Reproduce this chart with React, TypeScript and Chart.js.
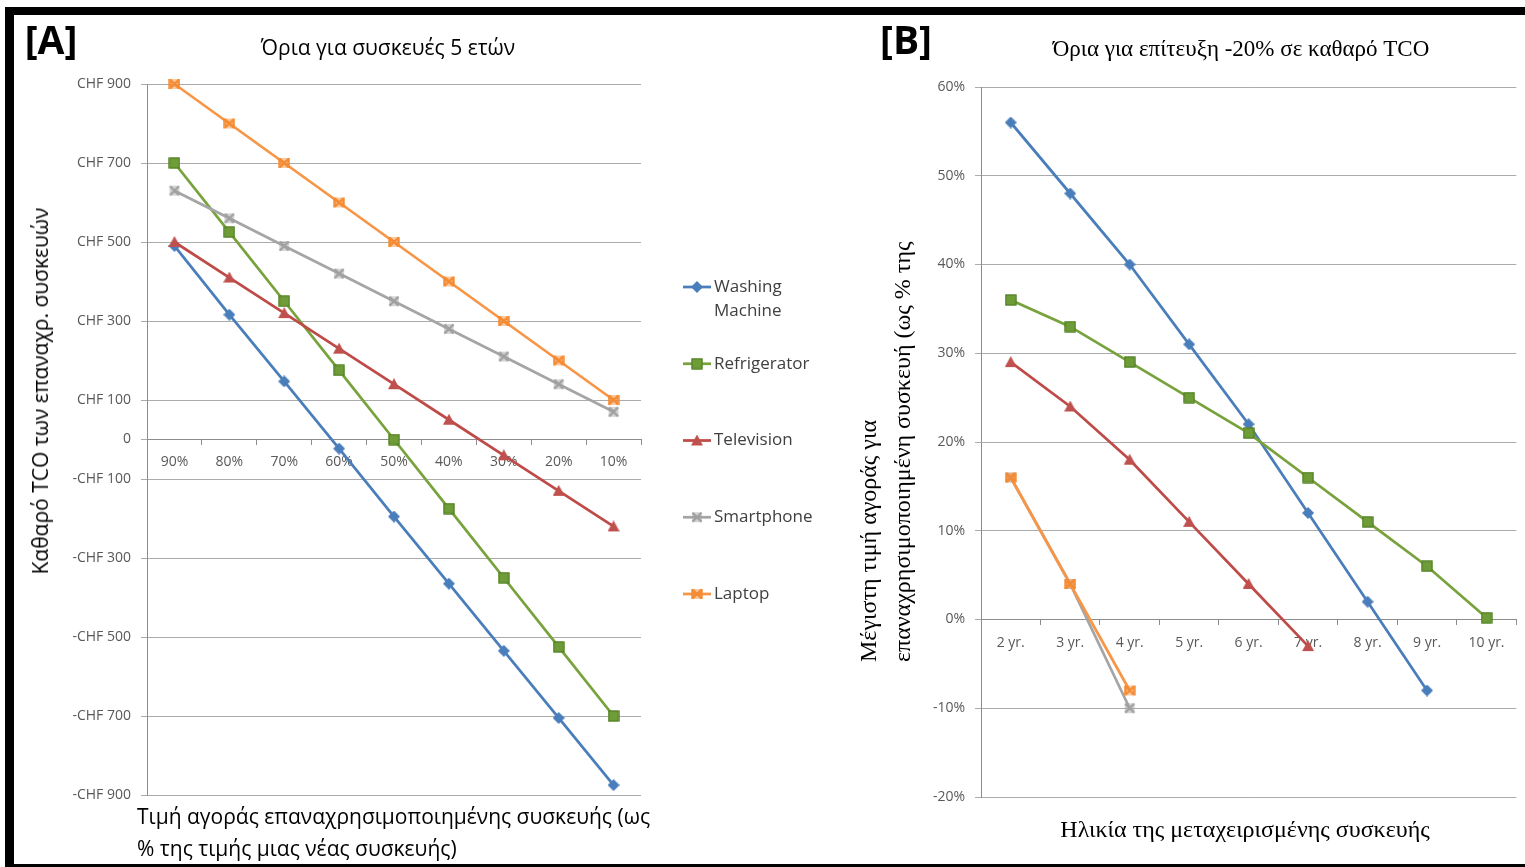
import React, { useEffect, useRef } from 'react';
import { Chart, registerables } from 'chart.js';

Chart.register(...registerables);

// ---------- DATA ----------
const seriesNames = ['Washing Machine', 'Refrigerator', 'Television', 'Smartphone', 'Laptop'];
const legendLines = [['Washing', 'Machine'], ['Refrigerator'], ['Television'], ['Smartphone'], ['Laptop']];

// Panel A: price of reused device (% of new price)
const priceLabelsA = ['90%', '80%', '70%', '60%', '50%', '40%', '30%', '20%', '10%'];
const washingA = [490, 316, 147, -23, -195, -365, -535, -705, -875];
const fridgeA = [700, 525, 350, 175, 0, -175, -350, -525, -700];
const tvA = [500, 410, 320, 230, 140, 50, -40, -130, -220];
const phoneA = [630, 560, 490, 420, 350, 280, 210, 140, 70];
const laptopA = [900, 800, 700, 600, 500, 400, 300, 200, 100];
const tickValuesA = [-900, -700, -500, -300, -100, 0, 100, 300, 500, 700, 900];

// Panel B: age of the used device
const ageLabelsB = ['2 yr.', '3 yr.', '4 yr.', '5 yr.', '6 yr.', '7 yr.', '8 yr.', '9 yr.', '10 yr.'];
const washingB = [56, 48, 40, 31, 22, 12, 2, -8, null];
const fridgeB = [36, 33, 29, 25, 21, 16, 11, 6, 0.2];
const tvB = [29, 24, 18, 11, 4, -3, null, null, null];
const phoneB = [16, 4, -10, null, null, null, null, null, null];
const laptopB = [16, 4, -8, null, null, null, null, null, null];

// ---------- STYLE ----------
const lineColors = ['#4A7EBB', '#77A23C', '#BE4B48', '#A5A5A5', '#F79646'];
const markerFill = ['#4A7EBB', '#6E9C36', '#C0504D', '#A0A0A0', '#F58B32'];
const markerStroke = ['#3F6FA8', '#4E7A25', '#A43F3C', '#8C8C8C', '#E0762A'];
const markerKinds = ['diamond', 'square', 'triangle', 'x', 'star'];

const TICK_FONT = { family: '"Open Sans", "Noto Sans", sans-serif', size: 14 };
const TICK_COLOR = '#595959';
const GRID_COLOR = '#ABABAB';
const AXIS_COLOR = '#8C8C8C';

function makeMarker(kind: string, fill: string, stroke: string): HTMLCanvasElement {
  const c = document.createElement('canvas');
  const s = 12;
  c.width = s;
  c.height = s;
  const ctx = c.getContext('2d')!;
  ctx.lineJoin = 'miter';
  const m = s / 2;
  if (kind === 'diamond') {
    ctx.beginPath();
    ctx.moveTo(m, 0);
    ctx.lineTo(s, m);
    ctx.lineTo(m, s);
    ctx.lineTo(0, m);
    ctx.closePath();
    ctx.fillStyle = fill;
    ctx.fill();
  } else if (kind === 'square') {
    ctx.fillStyle = fill;
    ctx.fillRect(0.5, 0.5, 11, 11);
    ctx.strokeStyle = stroke;
    ctx.lineWidth = 1;
    ctx.strokeRect(1, 1, 10, 10);
  } else if (kind === 'triangle') {
    ctx.beginPath();
    ctx.moveTo(m, 0);
    ctx.lineTo(s, s - 1);
    ctx.lineTo(0, s - 1);
    ctx.closePath();
    ctx.fillStyle = fill;
    ctx.fill();
  } else {
    ctx.globalAlpha = 0.45;
    ctx.fillStyle = fill;
    ctx.fillRect(1, 1, 10, 10);
    ctx.globalAlpha = 1;
    ctx.strokeStyle = fill;
    ctx.lineWidth = 2.4;
    ctx.beginPath();
    ctx.moveTo(1.5, 1.5);
    ctx.lineTo(10.5, 10.5);
    ctx.moveTo(10.5, 1.5);
    ctx.lineTo(1.5, 10.5);
    if (kind === 'star') {
      ctx.moveTo(1.5, 1);
      ctx.lineTo(1.5, 11);
      ctx.moveTo(10.5, 1);
      ctx.lineTo(10.5, 11);
    }
    ctx.stroke();
  }
  return c;
}

function buildDatasets(values: (number | null)[][], markers: HTMLCanvasElement[]) {
  return values.map((v, i) => ({
    label: seriesNames[i],
    data: v,
    borderColor: lineColors[i],
    backgroundColor: markerFill[i],
    borderWidth: 2.75,
    pointStyle: markers[i] as any,
    pointRadius: 6,
    pointHoverRadius: 6,
    tension: 0,
    spanGaps: false,
    clip: false as any,
    order: 5 - i,
  }));
}

const excelLegend = {
  id: 'excelLegend',
  afterDraw(chart: any, _args: any, opts: any) {
    if (!opts || !opts.items) return;
    const ctx = chart.ctx;
    ctx.save();
    opts.items.forEach((it: any) => {
      const ds = chart.data.datasets[it.index];
      const x0 = opts.x;
      const y = it.y;
      ctx.strokeStyle = ds.borderColor;
      ctx.lineWidth = 2.75;
      ctx.beginPath();
      ctx.moveTo(x0, y);
      ctx.lineTo(x0 + 28, y);
      ctx.stroke();
      const img = ds.pointStyle as HTMLCanvasElement;
      ctx.drawImage(img, x0 + 14 - img.width / 2, y - img.height / 2);
      ctx.fillStyle = '#404040';
      ctx.font = '17px "Open Sans", "Noto Sans", sans-serif';
      ctx.textBaseline = 'middle';
      ctx.textAlign = 'left';
      it.lines.forEach((t: string, k: number) => {
        ctx.fillText(t, x0 + 31, y + k * 24);
      });
    });
    ctx.restore();
  },
};

function fixedWidth(w: number) {
  return (scale: any) => {
    scale.width = w;
  };
}

const App: React.FC = () => {
  const refA = useRef<HTMLCanvasElement>(null);
  const refB = useRef<HTMLCanvasElement>(null);

  useEffect(() => {
    const markers = markerKinds.map((k, i) => makeMarker(k, markerFill[i], markerStroke[i]));

    const chartA = new Chart(refA.current!, {
      type: 'line',
      data: {
        labels: priceLabelsA,
        datasets: buildDatasets([washingA, fridgeA, tvA, phoneA, laptopA], markers) as any,
      },
      plugins: [excelLegend],
      options: {
        responsive: false,
        animation: false,
        layout: { padding: { left: 47, right: 199, top: 84, bottom: 72 } },
        plugins: {
          legend: { display: false },
          tooltip: { enabled: false },
          excelLegend: {
            x: 683,
            items: legendLines.map((lines, i) => ({ index: i, lines, y: 287 + i * 76.75 })),
          },
        } as any,
        scales: {
          x: {
            type: 'category',
            offset: true,
            position: { y: 0 } as any,
            grid: { offset: true, drawOnChartArea: false, drawTicks: true, tickLength: 5, color: AXIS_COLOR },
            border: { color: AXIS_COLOR, width: 1 },
            ticks: { font: TICK_FONT, color: TICK_COLOR, padding: 9, maxRotation: 0, autoSkip: false },
          },
          y: {
            type: 'linear',
            min: -900,
            max: 900,
            afterBuildTicks: (s: any) => {
              s.ticks = tickValuesA.map((v) => ({ value: v }));
            },
            afterFit: fixedWidth(100),
            grid: { color: GRID_COLOR, tickLength: 6, lineWidth: 1 },
            border: { color: AXIS_COLOR },
            ticks: {
              font: TICK_FONT,
              color: TICK_COLOR,
              padding: 10,
              callback: (v: any) => (v === 0 ? '0' : v < 0 ? '-CHF ' + -v : 'CHF ' + v),
            },
          },
        },
      },
    });

    const chartB = new Chart(refB.current!, {
      type: 'line',
      data: {
        labels: ageLabelsB,
        datasets: buildDatasets([washingB, fridgeB, tvB, phoneB, laptopB], markers) as any,
      },
      options: {
        responsive: false,
        animation: false,
        layout: { padding: { left: 61, right: 5, top: 87, bottom: 70 } },
        plugins: { legend: { display: false }, tooltip: { enabled: false } },
        scales: {
          x: {
            type: 'category',
            offset: true,
            position: { y: 0 } as any,
            grid: { offset: true, drawOnChartArea: false, drawTicks: true, tickLength: 5, color: AXIS_COLOR },
            border: { color: AXIS_COLOR, width: 1 },
            ticks: { font: TICK_FONT, color: TICK_COLOR, padding: 10, maxRotation: 0, autoSkip: false },
          },
          y: {
            type: 'linear',
            min: -20,
            max: 60,
            afterFit: fixedWidth(80),
            grid: { color: GRID_COLOR, tickLength: 6, lineWidth: 1 },
            border: { color: AXIS_COLOR },
            ticks: { stepSize: 10, font: TICK_FONT, color: TICK_COLOR, padding: 10, callback: (v: any) => v + '%' },
          },
        },
      },
    });

    return () => {
      chartA.destroy();
      chartB.destroy();
    };
  }, []);

  const sans = '"Open Sans", "Noto Sans", sans-serif';
  const serif = '"Liberation Serif", "DejaVu Serif", serif';
  const abs: React.CSSProperties = { position: 'absolute', whiteSpace: 'nowrap' };
  const centered = (x: number, y: number): React.CSSProperties => ({
    ...abs,
    left: x,
    top: y,
    transform: 'translate(-50%, -50%)',
  });

  return (
    <div style={{ position: 'absolute', left: 0, top: 0, width: 1525, height: 867, background: '#fff', overflow: 'hidden' }}>
      {/* frame */}
      <div style={{ position: 'absolute', left: 5, top: 7, width: 1520, height: 8, background: '#000' }} />
      <div style={{ position: 'absolute', left: 5, top: 7, width: 9, height: 860, background: '#000' }} />
      <div style={{ position: 'absolute', left: 5, top: 864, width: 1520, height: 3, background: '#000' }} />

      <canvas ref={refA} width={840} height={867} style={{ position: 'absolute', left: 0, top: 0, width: 840, height: 867 }} />
      <canvas ref={refB} width={685} height={867} style={{ position: 'absolute', left: 840, top: 0, width: 685, height: 867 }} />

      {/* panel A texts */}
      <div style={{ ...centered(51, 38), fontFamily: sans, fontWeight: 700, fontSize: 39, color: '#000' }}>[A]</div>
      <div style={{ ...centered(388, 47), fontFamily: sans, fontSize: 21, color: '#000' }}>Όρια για συσκευές 5 ετών</div>
      <div style={{ ...centered(40, 391), fontFamily: sans, fontSize: 21, color: '#000', transform: 'translate(-50%, -50%) rotate(-90deg)' }}>
        Καθαρό TCO των επαναχρ. συσκευών
      </div>
      <div style={{ ...abs, left: 137, top: 800, fontFamily: sans, fontSize: 21, lineHeight: '32px', color: '#000' }}>
        Τιμή αγοράς επαναχρησιμοποιημένης συσκευής (ως
        <br />% της τιμής μιας νέας συσκευής)
      </div>

      {/* panel B texts */}
      <div style={{ ...centered(906, 38), fontFamily: sans, fontWeight: 700, fontSize: 39, color: '#000' }}>[B]</div>
      <div style={{ ...centered(1241, 49), fontFamily: serif, fontSize: 23, color: '#000' }}>Όρια για επίτευξη -20% σε καθαρό TCO</div>
      <div
        style={{
          ...abs,
          left: 851,
          top: 662,
          transformOrigin: '0 0',
          transform: 'rotate(-90deg)',
          fontFamily: serif,
          fontSize: 24,
          lineHeight: '34px',
          color: '#000',
        }}
      >
        Μέγιστη τιμή αγοράς για
        <br />
        επαναχρησιμοποιημένη συσκευή (ως % της
      </div>
      <div style={{ ...centered(1245, 829), fontFamily: serif, fontSize: 24, color: '#000' }}>Ηλικία της μεταχειρισμένης συσκευής</div>
    </div>
  );
};

export default App;
